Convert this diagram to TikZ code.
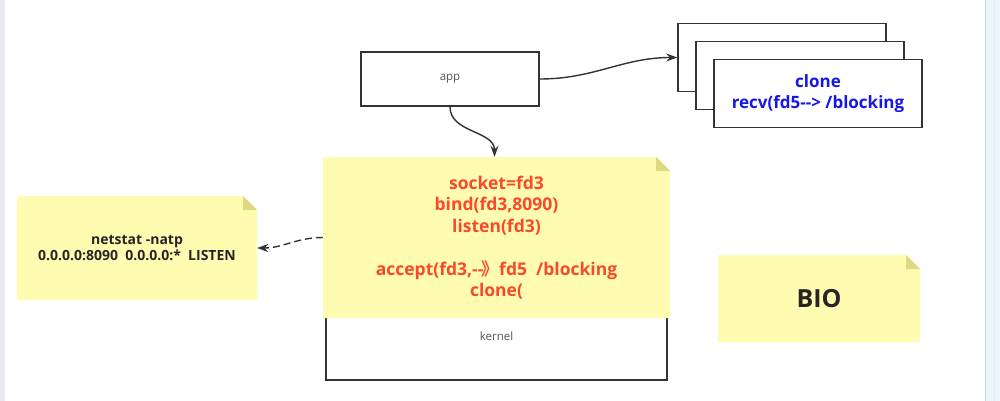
\documentclass[tikz,border=0pt]{standalone}
\usepackage{fontspec}
\setmainfont{Open Sans}[BoldFont={Open Sans Bold}]
\newfontfamily\cjk{Noto Sans CJK SC}[BoldFont={Noto Sans CJK SC Bold}]
\usetikzlibrary{arrows.meta}
\definecolor{notefill}{RGB}{255,252,178}
\definecolor{foldfill}{RGB}{222,216,130}
\definecolor{redtxt}{RGB}{250,72,42}
\definecolor{bluetxt}{RGB}{22,22,230}
\definecolor{edge}{RGB}{51,51,51}
\definecolor{graytxt}{RGB}{85,85,85}
\definecolor{darktxt}{RGB}{40,36,36}
\definecolor{leftbar}{RGB}{232,232,238}
\definecolor{rightbar}{RGB}{234,246,252}
\definecolor{rightline}{RGB}{190,220,236}
\newcommand\dd{-\kern0pt-}
\begin{document}
\begin{tikzpicture}[x=1pt,y=-1pt,
  box/.style={draw=edge, line width=1.6pt, fill=white, inner sep=0pt},
  note/.style={inner sep=0pt, align=center, path picture={
    \fill[notefill] (path picture bounding box.south west) -- (path picture bounding box.north west)
      -- ([xshift=-14pt]path picture bounding box.north east) -- ([yshift=-14pt]path picture bounding box.north east)
      -- (path picture bounding box.south east) -- cycle;
    \fill[foldfill] ([xshift=-14pt]path picture bounding box.north east)
      -- ([xshift=-14pt,yshift=-14pt]path picture bounding box.north east)
      -- ([yshift=-14pt]path picture bounding box.north east) -- cycle;}},
  arr/.style={draw=edge, line width=1.4pt, -{Stealth[length=11pt,width=8pt]}},
  smalltxt/.style={font=\fontsize{11.5}{13}\selectfont, text=graytxt}
]
\useasboundingbox (0,0) rectangle (1000,401);
\fill[white] (0,0) rectangle (1000,401);
\fill[leftbar] (0,0) rectangle (5,401);
\fill[rightbar] (985,0) rectangle (1000,401);
\draw[rightline, line width=1pt] (985.5,0) -- (985.5,401);
\draw[rightline!50, line width=0.6pt] (994,0) -- (994,401);

% boxes
\node[box, smalltxt, minimum width=178pt, minimum height=54pt] (app) at (450,79) {app};
\node[box, minimum width=208pt, minimum height=68pt] (c1) at (782,57.5) {};
\node[box, minimum width=208pt, minimum height=68pt] (c2) at (800,75.5) {};
\node[box, minimum width=208pt, minimum height=68pt, align=center, text=bluetxt,
  font=\fontsize{17}{21}\selectfont\bfseries] (c3) at (818,93.5) {clone\\recv(fd5\dd> /blocking};
\node[box, smalltxt, minimum width=341pt, minimum height=88pt] (kernel) at (496.5,336) {kernel};

% notes
\node[note, minimum width=347pt, minimum height=161pt, text=redtxt,
  font=\fontsize{17.5}{21.5}\selectfont\bfseries] (mainnote) at (496.5,237.5)
  {socket=fd3\\bind(fd3,8090)\\listen(fd3)\\[21.5pt]accept(fd3,\dd{\cjk\kern-0.1em 》}fd5\ \ /blocking\\clone(};
\node[note, minimum width=240pt, minimum height=104pt, text=darktxt,
  font=\fontsize{14}{15.5}\selectfont\bfseries] (leftnote) at (137,248)
  {netstat -natp\\0.0.0.0:8090\ \ 0.0.0.0:*\ \ LISTEN};
\node[note, minimum width=202pt, minimum height=87pt, text=darktxt,
  font=\fontsize{25}{30}\selectfont\bfseries] (bio) at (819,298.5) {BIO};

% connectors
\draw[arr] (app.east) to[out=0,in=180] (c1.west);
\draw[arr] (app.south) to[out=-90,in=90] ([xshift=-2pt]mainnote.north);
\draw[arr, dash pattern=on 7pt off 4pt] (mainnote.west) to[out=180,in=0] (leftnote.east);
\end{tikzpicture}
\end{document}
